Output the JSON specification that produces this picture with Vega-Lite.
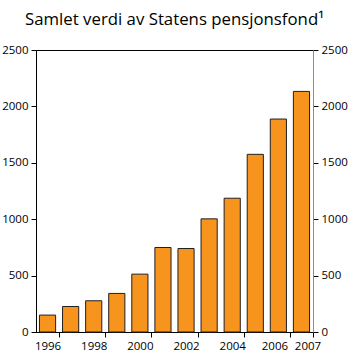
{
  "$schema": "https://vega.github.io/schema/vega-lite/v6.json",
  "width": 277,
  "height": 282,
  "autosize": {"type": "none"},
  "padding": {"left": 36, "top": 50, "right": 37, "bottom": 23},
  "title": {
    "text": "Samlet verdi av Statens pensjonsfond¹",
    "font": "Open Sans",
    "fontSize": 16.8,
    "fontWeight": "normal",
    "color": "#000000",
    "anchor": "middle",
    "offset": 15
  },
  "config": {
    "view": {"stroke": "#000000", "strokeWidth": 1},
    "axis": {
      "labelFont": "Open Sans",
      "labelFontSize": 11.5,
      "labelColor": "#000000",
      "domainColor": "#000000",
      "tickColor": "#000000",
      "tickSize": 5,
      "labelPadding": 3,
      "grid": false,
      "title": null
    }
  },
  "data": {
    "values": [
      {"year": 1996, "value": 150},
      {"year": 1997, "value": 226},
      {"year": 1998, "value": 277},
      {"year": 1999, "value": 342},
      {"year": 2000, "value": 513},
      {"year": 2001, "value": 749},
      {"year": 2002, "value": 740},
      {"year": 2003, "value": 1003},
      {"year": 2004, "value": 1186},
      {"year": 2005, "value": 1575},
      {"year": 2006, "value": 1888},
      {"year": 2007, "value": 2133}
    ]
  },
  "layer": [
    {
      "mark": {"type": "bar", "fill": "#F7941D", "stroke": "#231F20", "strokeWidth": 1},
      "encoding": {
        "x": {
          "field": "year",
          "type": "ordinal",
          "scale": {"paddingInner": 0.3, "paddingOuter": 0.15},
          "axis": {
            "values": [1996, 1998, 2000, 2002, 2004, 2006, 2007],
            "labelAngle": 0,
            "tickOffset": 11.54,
            "labelOffset": {"condition": [{"test": "datum.value == 2006", "value": -15.5}, {"test": "datum.value == 2007", "value": -5.5}], "value": -11.54},
            "title": null
          }
        },
        "y": {
          "field": "value",
          "type": "quantitative",
          "scale": {"domain": [0, 2500]},
          "axis": {"orient": "left", "format": "d", "values": [0, 500, 1000, 1500, 2000, 2500], "title": null}
        }
      }
    },
    {
      "mark": {"type": "bar", "opacity": 0},
      "encoding": {
        "x": {
          "field": "year",
          "type": "ordinal",
          "scale": {"paddingInner": 0.3, "paddingOuter": 0.15},
          "axis": {
            "values": [1996, 1998, 2000, 2002, 2004, 2006, 2007],
            "labelAngle": 0,
            "tickOffset": 11.54,
            "labelOffset": {"condition": [{"test": "datum.value == 2006", "value": -15.5}, {"test": "datum.value == 2007", "value": -5.5}], "value": -11.54},
            "title": null
          }
        },
        "y": {
          "field": "value",
          "type": "quantitative",
          "scale": {"domain": [0, 2500]},
          "axis": {"orient": "right", "format": "d", "values": [0, 500, 1000, 1500, 2000, 2500], "title": null, "domainColor": "#8c8c8c"}
        }
      }
    }
  ],
  "resolve": {"scale": {"y": "independent"}}
}
